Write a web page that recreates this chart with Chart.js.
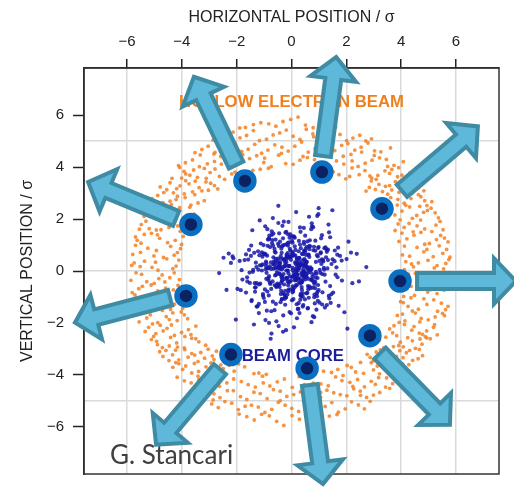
<!DOCTYPE html>
<html><head><meta charset="utf-8">
<script src="https://cdn.jsdelivr.net/npm/chart.js@4.4.1/dist/chart.umd.min.js"></script>
<style>html,body{margin:0;padding:0;background:#fff;}canvas{display:block;}</style>
</head><body>
<canvas id="c" width="514" height="492"></canvas>
<script>
// ---- axes ----
const xTickValues = [-6, -4, -2, 0, 2, 4, 6];
const yTickValues = [-6, -4, -2, 0, 2, 4, 6];
const yGridValues = [-5, 0, 5];
const xRange = [-7.57, 7.57];
const yRange = [-7.82, 7.82];

// ---- hollow electron beam (x,y pairs, sigma units) ----
const ringXY = [
4.12,0.05, 4.63,0.31, 5.21,0.12, 5.74,0.44, 4.38,0.27, 5.55,0.08,
-4.21,0.19, -4.87,0.03, -5.36,0.38, -5.83,0.22, -4.55,0.47, -5.09,0.14,
4.27,-0.12, 4.91,-0.35, 5.42,-0.06, 5.88,-0.28, 4.69,-0.44, 5.13,-0.21,
-4.09,-0.33, -4.72,-0.15, -5.28,-0.41, -5.67,-0.07, -4.44,-0.26, -5.01,-0.48,
4.05,0.62, 4.58,0.91, 5.17,0.55, 5.66,0.83, 4.83,0.74, 5.39,0.97,
-4.16,0.71, -4.67,0.52, -5.24,0.88, -5.79,0.64, -4.41,0.95, -5.02,0.58,
4.21,-0.68, 4.76,-0.53, 5.31,-0.87, 5.81,-0.61, 4.49,-0.94, 5.07,-0.72,
-4.02,-0.86, -4.59,-0.66, -5.12,-0.54, -5.71,-0.92, -4.88,-0.77, -5.44,-0.59,
3.92,1.14, 4.47,1.38, 5.03,1.06, 5.58,1.27, 4.72,1.49, 5.29,1.21,
-3.95,1.33, -4.52,1.09, -5.11,1.45, -5.63,1.18, -4.81,1.26, -5.37,1.41,
4.08,-1.22, 4.63,-1.47, 5.19,-1.11, 5.71,-1.36, 4.36,-1.03, 4.94,-1.29,
-4.13,-1.07, -4.69,-1.34, -5.26,-1.19, -5.74,-1.42, -4.41,-1.48, -5.00,-1.15,
3.78,1.56, 4.29,1.83, 4.86,1.62, 5.42,1.91, 4.58,1.74, 5.12,1.52, 3.96,1.97,
-3.81,1.66, -4.37,1.94, -4.93,1.58, -5.48,1.79, -4.64,1.87, -5.19,1.63, -4.06,1.53,
3.86,-1.71, 4.41,-1.54, 4.99,-1.88, 5.51,-1.63, 4.68,-1.96, 5.24,-1.77, 4.14,-1.92,
-3.79,-1.84, -4.33,-1.61, -4.88,-1.99, -5.44,-1.57, -4.57,-1.76, -5.15,-1.69, -4.02,-1.58,
3.52,2.08, 4.03,2.31, 4.57,2.14, 5.09,2.42, 5.36,2.05, 4.31,2.47, 4.82,2.26,
-3.55,2.19, -4.08,2.44, -4.61,2.03, -5.14,2.29, -5.38,2.11, -4.36,2.36, -4.85,2.48,
3.58,-2.23, 4.12,-2.06, 4.66,-2.39, 5.18,-2.17, 5.32,-2.46, 4.39,-2.28, 3.84,-2.49,
-3.49,-2.12, -4.01,-2.37, -4.54,-2.21, -5.07,-2.04, -5.34,-2.33, -4.27,-2.48, -4.79,-2.09,
3.14,2.58, 3.62,2.83, 4.11,2.61, 4.63,2.94, 5.12,2.67, 3.88,2.76, 4.39,2.99, 4.94,2.52,
-3.18,2.71, -3.67,2.54, -4.16,2.88, -4.69,2.63, -5.09,2.79, -3.91,2.97, -4.43,2.69, -4.97,2.56,
3.21,-2.66, 3.72,-2.91, 4.24,-2.57, 4.76,-2.82, 5.06,-2.61, 3.97,-2.74, 4.52,-2.98, 4.88,-2.53,
-3.13,-2.86, -3.64,-2.59, -4.19,-2.77, -4.71,-2.95, -5.11,-2.64, -3.89,-2.52, -4.46,-2.89, -4.92,-2.71,
2.72,3.08, 3.19,3.34, 3.66,3.12, 4.14,3.41, 4.61,3.19, 2.91,3.47, 3.43,3.26, 3.92,3.03, 4.38,3.37, 4.83,3.09,
-2.69,3.16, -3.12,3.43, -3.61,3.05, -4.07,3.28, -4.55,3.13, -2.95,3.38, -3.37,3.21, -3.86,3.48, -4.31,3.01, -4.79,3.24,
2.76,-3.21, 3.24,-3.04, 3.71,-3.39, 4.19,-3.15, 4.66,-3.02, 2.98,-3.46, 3.47,-3.31, 3.95,-3.07, 4.42,-3.44, 4.78,-3.26,
-2.74,-3.09, -3.17,-3.36, -3.64,-3.18, -4.11,-3.42, -4.58,-3.06, -2.89,-3.27, -3.41,-3.49, -3.89,-3.03, -4.34,-3.23, -4.81,-3.11,
1.98,3.55, 2.47,3.71, 2.93,3.58, 3.41,3.86, 3.87,3.63, 4.31,3.77, 1.52,3.82, 0.93,3.94, 2.21,3.97, 3.15,3.68, 3.66,3.91, 4.12,3.52,
-1.96,3.62, -2.44,3.53, -2.97,3.79, -3.43,3.61, -3.92,3.84, -4.36,3.57, -1.41,3.88, -0.84,3.96, -2.18,3.74, -3.18,3.95, -3.71,3.69, -4.08,3.99,
2.03,-3.64, 2.52,-3.52, 2.99,-3.81, 3.46,-3.59, 3.92,-3.73, 4.28,-3.61, 1.46,-3.91, 0.87,-3.97, 2.34,-3.89, 3.21,-3.96, 3.71,-3.55, 4.19,-3.86,
-1.93,-3.58, -2.49,-3.76, -2.94,-3.54, -3.39,-3.87, -3.86,-3.66, -4.33,-3.71, -1.37,-3.95, -0.92,-3.98, -2.27,-3.63, -3.12,-3.69, -3.64,-3.93, -4.11,-3.57,
-4.12,4.06, -3.61,4.28, -3.07,4.13, -2.58,4.41, -2.04,4.09, -1.53,4.33, -1.01,4.18, -0.47,4.46, 0.06,4.11, 0.58,4.37, 1.12,4.04, 1.64,4.24, 2.17,4.49,
2.69,4.15, 3.21,4.36, 3.74,4.07, 4.08,4.21, -3.33,4.47, -0.74,4.02, 1.89,4.42, 3.46,4.30, -2.81,4.22, 0.31,4.27, 2.43,4.03, -1.78,4.48,
-4.17,-4.09, -3.66,-4.31, -3.14,-4.02, -2.63,-4.44, -2.11,-4.16, -1.58,-4.38, -1.06,-4.05, -0.52,-4.27, 0.03,-4.48, 0.54,-4.13, 1.07,-4.35, 1.61,-4.08, 2.13,-4.29,
2.66,-4.46, 3.18,-4.11, 3.69,-4.34, 4.11,-4.04, -3.38,-4.19, -0.79,-4.43, 1.84,-4.22, 3.43,-4.47, -2.88,-4.33, 0.28,-4.07, 2.41,-4.18, -1.83,-4.26,
-3.52,4.56, -3.04,4.81, -2.55,4.63, -2.07,4.92, -1.58,4.69, -1.09,4.54, -0.61,4.86, -0.12,4.62, 0.37,4.97, 0.86,4.71,
1.34,4.52, 1.83,4.84, 2.31,4.66, 2.79,4.93, 3.26,4.59, 3.61,4.74, -2.83,4.51, -0.35,4.77, 1.12,4.95, 2.56,4.58,
-3.57,-4.64, -3.09,-4.53, -2.61,-4.88, -2.12,-4.61, -1.63,-4.95, -1.14,-4.72, -0.66,-4.57, -0.17,-4.83, 0.32,-4.66, 0.81,-4.91,
1.29,-4.59, 1.78,-4.76, 2.27,-4.54, 2.74,-4.87, 3.22,-4.68, 3.58,-4.52, -2.86,-4.97, -0.41,-4.99, 1.06,-4.68, 2.52,-4.79,
-2.86,5.04, -2.37,5.27, -1.88,5.13, -1.39,5.41, -0.91,5.08, -0.43,5.32, 0.06,5.19, 0.54,5.46, 1.03,5.11, 1.52,5.36, 2.01,5.02, 2.49,5.23, 2.92,5.09, -1.64,5.22, 0.78,5.28,
-2.91,-5.12, -2.43,-5.03, -1.94,-5.34, -1.46,-5.17, -0.97,-5.45, -0.48,-5.06, 0.01,-5.29, 0.49,-5.14, 0.98,-5.38, 1.47,-5.07, 1.96,-5.31, 2.44,-5.16, 2.87,-5.02, -1.21,-5.24, 0.73,-5.48,
-1.68,5.53, -1.12,5.71, -0.57,5.58, -0.03,5.84, 0.51,5.62, 1.06,5.76, 1.61,5.55, 0.24,5.93, -0.83,5.67,
-1.63,-5.61, -1.09,-5.52, -0.54,-5.79, 0.02,-5.57, 0.56,-5.86, 1.11,-5.64, 1.66,-5.53, -0.28,-5.95, 0.83,-5.69,
4.45,0.16, 4.98,0.41, 5.63,0.29, 4.17,0.36, 5.31,0.21, -4.33,0.09, -4.96,0.34, -5.52,0.17, -4.11,0.42, -5.74,0.31,
4.52,-0.09, 5.06,-0.39, 5.69,-0.18, 4.15,-0.24, 5.37,-0.46, -4.28,-0.07, -4.84,-0.29, -5.47,-0.13, -4.62,-0.42, -5.86,-0.36,
4.31,0.57, 4.94,0.83, 5.52,0.68, 4.12,0.96, 5.78,0.53, -4.28,0.61, -4.93,0.79, -5.51,0.72, -4.05,0.86, -5.69,0.99,
4.36,-0.59, 4.97,-0.81, 5.56,-0.74, 4.09,-0.98, 5.73,-0.51, -4.31,-0.73, -4.96,-0.96, -5.57,-0.68, -4.14,-0.55, -5.81,-0.83,
4.21,1.24, 4.86,1.03, 5.44,1.37, 4.03,1.46, 5.71,1.12, -4.24,1.18, -4.89,1.39, -5.49,1.07, -4.01,1.02, -5.69,1.31,
4.25,-1.36, 4.83,-1.07, 5.47,-1.24, 3.98,-1.18, 5.62,-1.49, -4.27,-1.28, -4.86,-1.04, -5.51,-1.33, -3.97,-1.44, -5.66,-1.09,
4.11,1.68, 4.71,1.96, 5.27,1.77, 3.89,1.81, 5.53,1.59, 4.44,1.51, -4.15,1.74, -4.76,1.59, -5.31,1.92, -3.92,1.86, -5.55,1.61, -4.47,1.68,
4.05,-1.66, 4.73,-1.83, 5.33,-1.55, 3.93,-1.98, 5.58,-1.72, 4.52,-1.62, -4.17,-1.91, -4.71,-1.52, -5.28,-1.81, -3.91,-1.69, -5.56,-1.96, -4.46,-1.87,
3.77,2.16, 4.41,2.03, 4.96,2.33, 5.24,2.24, 3.66,2.41, 4.68,2.49, -3.79,2.06, -4.44,2.13, -4.98,2.38, -5.27,2.21, -3.71,2.46, -4.72,2.27,
3.74,-2.11, 4.47,-2.14, 4.93,-2.31, 5.22,-2.07, 3.69,-2.38, 4.78,-2.44, -3.76,-2.26, -4.38,-2.08, -4.95,-2.41, -5.21,-2.17, -3.67,-2.45, -4.68,-2.31,
3.39,2.67, 3.86,2.54, 4.36,2.79, 4.86,2.71, 3.51,2.96, 4.17,2.53, 4.72,2.86, -3.41,2.62, -3.88,2.83, -4.38,2.56, -4.88,2.91, -3.53,2.94, -4.21,2.75, -5.02,2.68,
3.44,-2.55, 3.91,-2.87, 4.41,-2.69, 4.93,-2.58, 3.36,-2.96, 4.08,-2.92, 4.69,-2.62, -3.38,-2.73, -3.91,-2.96, -4.41,-2.56, -4.89,-2.84, -3.49,-2.61, -4.16,-2.93, -5.03,-2.52,
2.84,3.22, 3.32,3.06, 3.79,3.44, 4.26,3.16, 4.71,3.31, 3.06,3.14, 3.58,3.29, 4.03,3.36, -2.81,3.29, -3.27,3.09, -3.74,3.36, -4.19,3.17, -4.66,3.02, -3.03,3.11, -3.51,3.46, -4.43,3.40,
2.87,-3.33, 3.36,-3.18, 3.83,-3.29, 4.31,-3.06, 4.62,-3.38, 3.09,-3.12, 3.59,-3.47, 4.07,-3.34, -2.83,-3.41, -3.31,-3.14, -3.77,-3.32, -4.23,-3.05, -4.69,-3.29, -3.04,-3.01, -3.53,-3.24, -4.47,-3.45,
2.12,3.64, 2.68,3.87, 3.09,3.53, 3.58,3.76, 4.03,3.69, 1.73,3.71, 1.21,3.93, 2.86,3.66, 3.91,3.98, -2.06,3.81, -2.63,3.64, -3.11,3.57, -3.57,3.89, -4.01,3.58, -1.68,3.77, -1.14,3.92, -2.79,3.93, -3.86,3.74,
2.18,-3.71, 2.63,-3.94, 3.13,-3.66, 3.61,-3.82, 4.06,-3.59, 1.69,-3.79, 1.17,-3.86, 2.91,-3.53, 3.89,-3.99, -2.09,-3.86, -2.58,-3.62, -3.06,-3.91, -3.54,-3.56, -3.97,-3.79, -1.71,-3.69, -1.19,-3.93, -2.81,-3.74, -4.22,-3.53,
-3.87,4.17, -3.36,4.02, -2.31,4.28, -1.27,4.44, -0.21,4.14, 0.84,4.29, 1.37,4.46, 1.91,4.12, 2.94,4.27, 3.51,4.03, -2.56,4.12, -0.98,4.35, 0.42,4.41, 2.21,4.24, 3.02,4.45,
-3.91,-4.23, -3.41,-4.05, -2.36,-4.31, -1.32,-4.47, -0.26,-4.16, 0.79,-4.32, 1.34,-4.42, 1.88,-4.03, 2.91,-4.25, 3.47,-4.12, -2.51,-4.09, -1.03,-4.31, 0.47,-4.38, 2.24,-4.45, 3.06,-4.37,
-3.27,4.68, -2.79,4.57, -2.31,4.79, -1.82,4.61, -1.34,4.88, -0.86,4.66, -0.37,4.53, 0.12,4.81, 0.61,4.58, 1.09,4.83, 1.58,4.64, 2.06,4.91, 2.54,4.77, 3.03,4.63,
-3.31,-4.56, -2.83,-4.73, -2.34,-4.61, -1.86,-4.84, -1.37,-4.67, -0.89,-4.92, -0.41,-4.63, 0.08,-4.76, 0.57,-4.55, 1.06,-4.87, 1.54,-4.69, 2.02,-4.81, 2.51,-4.63, 2.99,-4.78,
-2.62,5.16, -2.13,5.35, -1.17,5.02, -0.67,5.24, -0.19,5.43, 0.31,5.07, 0.81,5.17, 1.28,5.44, 1.77,5.26, 2.24,5.12, 2.71,5.01,
-2.67,-5.26, -2.18,-5.09, -1.69,-5.21, -0.72,-5.33, -0.23,-5.17, 0.26,-5.41, 0.74,-5.09, 1.23,-5.22, 1.71,-5.44, 2.19,-5.04, 2.66,-5.31,
-1.39,5.64, -0.31,5.76, 0.79,5.52, 1.33,5.67, -1.89,5.51, -1.36,-5.74, -0.81,-5.58, 0.29,-5.71, 1.38,-5.59, -1.91,-5.51
];

// ---- beam core (sigma units) ----
const coreX = [
0.12,-0.71,0.47,1.13,-0.08,-0.56,0.29,-1.58,-0.41,0.63,0.03,-1.27,-0.22,0.88,0.38,-2.21,-0.15,0.94,0.44,1.41,-0.27,-0.83,-0.34,0.52,1.72,-1.08,0.21,-0.97,0.76,1.35,-0.64,-1.46,
-0.05,0.58,-1.19,0.33,-0.46,0.81,1.64,-0.19,0.07,-0.92,0.41,-1.37,0.26,0.69,-0.31,2.08,-0.60,0.14,-0.77,1.22,-0.43,0.99,0.18,-1.85,-0.11,0.54,-0.36,1.06,0.49,-0.87,-1.52,0.02,
0.37,-0.24,1.28,-0.68,0.09,-1.71,0.45,0.73,-0.39,-1.04,0.16,0.91,-0.13,-0.58,2.46,0.31,-0.82,1.49,-0.47,0.04,0.67,-1.33,-0.28,0.85,0.22,-0.95,1.11,-0.17,-2.03,0.56,0.43,-0.74,
-0.42,0.19,-0.86,1.57,0.35,-0.11,0.62,-1.24,0.48,-0.33,-0.79,1.03,0.06,0.97,-1.62,-0.20,0.27,-0.53,1.38,-0.04,0.71,-0.45,-1.15,0.13,0.89,-0.67,1.93,-0.26,0.39,-0.98,0.55,-0.09,
0.24,-0.61,0.02,1.31,-0.38,0.78,-1.43,0.46,-0.14,0.57,-0.92,-0.30,1.77,0.11,-0.70,0.34,-1.09,0.84,-0.48,0.18,-2.37,0.65,-0.23,1.16,-0.06,-0.81,0.42,0.93,-1.28,0.28,-0.55,-0.17,
-0.29,0.83,0.15,-1.36,0.51,-0.07,0.66,-0.44,1.24,-0.90,0.32,-0.18,-1.66,0.74,0.08,-0.59,1.02,-0.35,0.46,2.22,-0.73,0.21,-1.12,0.61,-0.49,0.95,-0.12,1.45,-0.84,0.36,-0.01,-0.53,
0.44,-0.16,-0.88,0.27,1.09,-0.52,0.59,-1.21,-0.37,0.01,0.79,1.83,-0.25,0.68,-0.43,-1.47,0.14,0.98,-0.66,0.33,-0.08,1.29,-2.64,0.50,-0.31,0.87,-0.75,0.20,-1.03,0.41,0.64,-0.12,
-0.19,0.54,-0.72,0.06,1.18,-0.40,0.29,-1.55,0.77,-0.02,-0.94,0.46,0.17,-0.63,1.36,-0.28,0.91,-1.17,0.38,-0.47,2.01,-0.09,0.58,-0.81,0.23,1.07,-0.35,-1.89,0.70,0.12,-0.56,0.33,
0.31,-0.47,0.96,-0.06,-1.30,0.18,0.72,-0.23,1.50,-0.84,0.41,-0.14,0.60,-1.02,0.05,-0.68,1.21,0.27,-0.39,-2.15,0.83,-0.50,0.15,1.41,-0.91,0.47,-0.20,0.53,-1.61,0.09,-0.76,0.36,
-0.10,0.69,-0.31,1.12,0.25,-0.57,-1.40,0.42,0.87,-0.18,0.04,-0.96,1.68,-0.44,0.32,-0.65,0.80,-1.19,0.13,0.50,-0.27,1.33,-0.82,2.73,-0.03,0.61,-0.49,0.99,-1.05,0.19,-0.36,0.45,
0.53,-0.37,0.08,-1.14,0.71,0.26,-0.62,1.46,-0.05,-0.88,0.39,1.02,-0.21,0.65,-1.79,0.17,-0.46,0.92,-0.13,1.24,-0.74,0.31,2.17,-0.29,0.58,-1.31,0.04,-0.95,0.47,-0.18,0.82,-0.51,
-0.33,0.14,0.86,-0.59,1.37,-0.02,-1.06,0.43,0.25,-0.78,1.61,-0.12,0.67,-0.41,0.09,-2.29,0.36,-0.93,0.75,-0.24,1.15,0.51,-1.45,0.03,-0.66,0.97,-0.17,0.29,-1.22,0.60,-0.45,1.84,
0.19,-0.83,0.41,1.08,-0.26,0.62,-1.53,-0.07,0.34,0.89,-0.48,-1.16,0.11,0.73,-0.35,1.29,-0.69,0.22,-0.04,-1.97,0.56,-0.31,0.96,0.07,-0.87,1.52,-0.15,0.45,-1.34,0.28,-0.57,2.38,
-0.61,0.35,-0.14,0.81,-1.27,0.05,0.49,-0.38,1.19,-0.72,0.16,1.70,-0.97,0.27,-0.09,0.64,-1.48,0.41,-0.23,1.05,0.12,-0.55,-2.12,0.78,-0.31,1.33,-0.84,0.02,0.54,-1.04,0.93,-0.19,
0.28,-0.11,1.26,-0.66,0.44,-0.93,0.07,1.58,-0.39,0.71,-1.19,-0.25,0.52,0.17,-1.66,0.84,-0.48,0.36,-0.02,1.12,-0.79,0.60,-0.34,2.04,0.13,-1.08,0.47,-0.58,0.95,-0.16,-1.41,0.23,
-0.07,0.66,-0.44,0.19,1.43,-0.89,0.31,-1.33,0.58,-0.16,0.87,-0.62,1.11,0.04,-0.27,-1.82,0.42,-0.51,0.99,0.21,-1.01,1.67,-0.35,0.09,-0.74,0.38,-2.48,0.73,-0.20,1.20,0.15,-0.42
];
const coreY = [
-0.36,1.07,0.21,-0.82,0.55,-0.14,-1.62,0.44,0.09,-1.03,0.73,-0.47,1.48,-0.26,0.66,0.31,-0.91,2.12,-0.05,-0.58,0.18,1.25,-0.39,0.87,-1.34,0.02,0.49,-0.71,-0.22,1.79,0.37,-1.16,
0.53,-0.09,-1.27,0.28,0.96,-0.43,0.14,1.51,-0.67,-0.30,0.41,-2.06,0.76,0.05,-0.85,1.13,-0.17,0.60,-0.50,-1.41,0.23,0.92,-0.02,-0.74,1.89,0.35,-0.25,0.68,-1.09,0.11,-0.46,1.32,
-0.62,0.19,0.83,-1.18,-0.07,0.42,1.66,-0.33,0.57,-0.95,0.26,-1.49,0.01,0.71,-0.40,1.02,-0.20,2.34,-0.56,0.12,0.94,-0.80,0.46,-1.25,-0.13,0.64,1.38,-0.29,-1.87,0.35,0.07,-0.69,
0.16,-0.55,1.21,0.38,-0.98,-0.10,0.62,-1.36,0.29,1.74,-0.45,0.04,-0.77,0.89,-0.24,-2.28,0.51,0.13,-1.06,0.79,-0.34,1.45,0.22,-0.61,-0.03,0.97,-1.59,0.44,-0.18,0.67,-0.86,1.10,
-0.28,0.74,-1.13,0.10,0.47,-0.64,1.57,-0.05,-0.41,0.93,0.30,-1.71,0.58,-0.16,1.19,-0.88,0.22,-0.50,2.51,0.03,-0.73,0.84,-1.30,0.37,-0.21,1.36,0.65,-0.97,0.15,-0.44,-1.94,0.52,
0.43,-1.01,0.08,0.70,-0.32,1.28,-0.60,-0.12,0.91,-1.53,0.24,0.55,-0.83,1.84,-0.19,0.36,-1.22,0.06,0.78,-0.47,-2.41,0.17,1.06,-0.70,0.48,-0.27,1.41,-0.90,0.11,-0.38,0.63,-0.04,
-0.15,0.59,-0.79,1.16,0.27,-0.49,-1.44,0.05,0.86,-0.23,1.69,0.40,-1.07,0.14,-0.62,0.98,-0.31,2.19,0.53,-0.93,0.20,-1.31,-0.08,0.75,1.26,-0.42,0.33,-1.82,0.66,-0.17,0.01,-0.55,
0.34,-0.20,1.39,-0.71,0.12,-1.20,0.50,0.81,-0.36,-1.63,0.07,1.04,-0.54,0.25,-0.96,1.90,-0.11,0.61,-0.43,-2.12,0.46,0.18,-0.84,1.23,-0.29,0.72,-1.08,0.39,-0.06,0.95,-0.58,1.51,
-0.48,0.13,-1.15,0.85,0.32,-0.02,1.61,-0.76,0.45,-0.27,-1.37,0.69,0.06,1.00,-0.59,2.04,-0.14,0.24,-0.89,0.56,-1.78,0.38,-0.33,1.30,-0.07,0.77,-1.02,0.19,-0.40,0.60,-2.61,0.28,
0.20,-0.66,0.99,-0.12,-1.46,0.47,0.04,-0.35,1.17,0.63,-0.82,1.72,-0.24,0.31,-1.11,0.09,0.80,-0.52,-0.17,1.36,-0.90,0.42,-2.00,0.15,0.54,-0.30,1.05,-0.74,0.26,-1.28,0.70,-0.01,
0.62,-0.18,1.33,-0.49,0.07,-1.24,0.85,0.27,-0.71,1.61,-0.05,0.39,-1.02,0.54,-0.33,2.27,0.16,-0.87,0.98,-0.41,-1.55,0.22,0.71,-0.12,1.14,-0.63,0.03,-1.89,0.46,-0.26,0.93,-0.57,
-0.23,0.81,-0.66,0.12,1.49,-0.38,0.55,-1.31,0.04,0.92,-0.14,-0.79,1.18,0.31,-2.17,0.67,-0.45,0.19,1.72,-0.96,0.42,-0.08,-1.12,0.58,0.25,-0.54,1.03,-0.29,0.76,-1.43,0.10,-0.37,
0.47,-0.94,0.20,1.26,-0.31,0.63,-0.06,-1.58,0.88,0.35,-0.52,1.95,-0.17,0.09,-1.09,0.74,-0.40,0.28,1.41,-0.69,0.13,-2.34,0.56,-0.22,0.97,-0.83,0.02,1.12,-0.47,0.38,-1.27,0.66,
-0.55,0.24,1.07,-0.13,-1.37,0.69,0.41,-0.76,0.05,1.53,-0.28,0.90,-1.19,0.17,-0.44,2.09,0.58,-0.99,0.32,-0.07,1.28,-0.62,0.49,-1.74,0.14,0.82,-0.35,1.16,-0.21,-0.89,0.61,0.02,
0.11,-0.72,0.53,1.44,-0.19,0.36,-1.08,0.79,-0.47,0.06,-1.62,1.01,0.27,-0.36,0.64,-0.91,1.85,-0.10,0.43,-1.29,0.18,-0.58,0.95,-2.22,0.33,0.72,-0.25,1.21,-0.80,0.47,-0.03,-1.46,
-0.40,0.97,-0.09,0.34,-1.23,0.59,1.68,-0.64,0.15,-0.27,0.78,-1.51,0.45,1.09,-0.52,0.03,-0.86,0.26,2.42,-0.16,-1.04,0.63,-0.37,1.32,0.08,-0.73,0.51,-1.97,0.21,0.88,-0.30,1.13
];

// ---- probe markers (circles) ----
const markerX = [-1.70, 1.11, 3.30, 3.96, 2.86, 0.57, -2.21, -3.85, -3.67];
const markerY = [3.47, 3.81, 2.40, -0.39, -2.49, -3.75, -3.22, -0.96, 1.79];

// ---- arrows (tail -> tip) ----
const arrowFromX = [-2.02, 1.15, 4.03, 4.58, 3.23, 0.67, -2.61, -4.43, -4.21];
const arrowFromY = [4.08, 4.43, 3.09, -0.39, -3.17, -4.39, -3.78, -1.03, 2.02];
const arrowToX = [-3.56, 1.63, 6.80, 8.19, 5.78, 1.15, -4.94, -7.90, -7.42];
const arrowToY = [7.48, 8.24, 5.57, -0.39, -5.92, -8.21, -6.69, -1.99, 3.43];

// ---- text notes ----
const noteText = ['HOLLOW ELECTRON BEAM', 'BEAM CORE'];
const noteX = [0.0, 0.05];
const noteY = [6.5, -3.3];
const creditText = 'G. Stancari';
const creditX = -6.62;
const creditY = -7.45;

const ringPts = [];
for (let i = 0; i + 1 < ringXY.length; i += 2) ringPts.push({x: ringXY[i], y: ringXY[i + 1]});
const nCore = Math.min(coreX.length, coreY.length);
const corePts = [];
for (let i = 0; i < nCore; i++) corePts.push({x: coreX[i], y: coreY[i]});
const markerPts = markerX.map((x, i) => ({x, y: markerY[i]}));

function drawArrow(ctx, x1, y1, x2, y2) {
  const dx = x2 - x1, dy = y2 - y1, len = Math.hypot(dx, dy);
  const ux = dx / len, uy = dy / len, nx = -uy, ny = ux;
  const w = 8, h = 23, L = 22;
  const bx = x2 - ux * L, by = y2 - uy * L;
  ctx.beginPath();
  ctx.moveTo(x1 + nx * w, y1 + ny * w);
  ctx.lineTo(bx + nx * w, by + ny * w);
  ctx.lineTo(bx + nx * h, by + ny * h);
  ctx.lineTo(x2, y2);
  ctx.lineTo(bx - nx * h, by - ny * h);
  ctx.lineTo(bx - nx * w, by - ny * w);
  ctx.lineTo(x1 - nx * w, y1 - ny * w);
  ctx.closePath();
  ctx.fillStyle = '#5db8d9';
  ctx.fill();
  ctx.lineJoin = 'miter';
  ctx.lineWidth = 4;
  ctx.strokeStyle = '#3f8ba4';
  ctx.stroke();
}

function stretchedText(ctx, text, x, y, sx) {
  ctx.save();
  ctx.translate(x, y);
  ctx.scale(sx, 1);
  ctx.fillText(text, 0, 0);
  ctx.restore();
}

const framePlugin = {
  id: 'frame',
  beforeDatasetsDraw(chart) {
    const a = chart.chartArea, ctx = chart.ctx;
    ctx.save();
    ctx.strokeStyle = '#333';
    ctx.lineWidth = 1.5;
    ctx.strokeRect(a.left, a.top, a.right - a.left, a.bottom - a.top);
    ctx.restore();
  }
};

const overlayPlugin = {
  id: 'overlay',
  afterDatasetDraw(chart, args) {
    if (args.index !== 1) return;
    const ctx = chart.ctx, xs = chart.scales.x, ys = chart.scales.y;
    ctx.save();
    ctx.textAlign = 'center';
    ctx.textBaseline = 'middle';
    ctx.font = 'bold 16px "Liberation Sans", Arial, sans-serif';
    const noteColors = ['#f0801e', '#1c1c9a'];
    noteText.forEach((t, i) => {
      ctx.fillStyle = noteColors[i];
      stretchedText(ctx, t, xs.getPixelForValue(noteX[i]), ys.getPixelForValue(noteY[i]), 1.045);
    });
    ctx.textAlign = 'left';
    ctx.textBaseline = 'alphabetic';
    ctx.font = '26px Lato, "Open Sans", sans-serif';
    ctx.fillStyle = '#404040';
    ctx.fillText(creditText, xs.getPixelForValue(creditX), ys.getPixelForValue(creditY));
    for (let i = 0; i < arrowFromX.length; i++) {
      drawArrow(ctx,
        xs.getPixelForValue(arrowFromX[i]), ys.getPixelForValue(arrowFromY[i]),
        xs.getPixelForValue(arrowToX[i]), ys.getPixelForValue(arrowToY[i]));
    }
    ctx.restore();
  }
};

const fmt = v => (v < 0 ? '\u2212' : '') + Math.abs(v);
const axisFont = {family: '"Liberation Sans", Arial, Helvetica, sans-serif', size: 15};
const titleFont = {family: '"Liberation Sans", Arial, Helvetica, sans-serif', size: 16};

new Chart(document.getElementById('c'), {
  type: 'scatter',
  data: {
    datasets: [
      {label: 'probes', data: markerPts, pointRadius: 9, pointBorderWidth: 5.5,
       backgroundColor: '#0b2263', borderColor: '#0a6fc1', pointHoverRadius: 9},
      {label: 'core', data: corePts, pointRadius: 2.1, borderWidth: 0,
       backgroundColor: 'rgba(24,24,168,0.85)', pointHoverRadius: 2.1},
      {label: 'ring', data: ringPts, pointRadius: 1.9, borderWidth: 0,
       backgroundColor: 'rgba(242,128,34,0.85)', pointHoverRadius: 1.9}
    ]
  },
  options: {
    responsive: false,
    animation: false,
    devicePixelRatio: 1,
    events: [],
    layout: {padding: {left: 0, top: 0, right: 15, bottom: 14}},
    plugins: {legend: {display: false}, tooltip: {enabled: false}},
    scales: {
      x: {
        type: 'linear', position: 'top', min: xRange[0], max: xRange[1],
        afterBuildTicks: s => { s.ticks = xTickValues.map(v => ({value: v})); },
        afterFit: s => { s.height = 68; },
        ticks: {callback: fmt, font: axisFont, color: '#222', padding: 8, maxRotation: 0},
        grid: {color: '#dadada', lineWidth: 1.5, tickColor: '#222', tickLength: 9, tickWidth: 1.5},
        border: {display: true, color: '#222', width: 1.5},
        title: {display: true, text: 'HORIZONTAL POSITION / \u03c3', font: titleFont, color: '#222', padding: {top: 8, bottom: 0}}
      },
      y: {
        type: 'linear', position: 'left', min: yRange[0], max: yRange[1],
        afterBuildTicks: s => { s.ticks = yTickValues.map(v => ({value: v})); },
        afterFit: s => { s.width = 84; },
        ticks: {callback: fmt, font: axisFont, color: '#222', padding: 9},
        grid: {drawOnChartArea: false, tickColor: '#222', tickLength: 11, tickWidth: 1.5},
        border: {display: true, color: '#222', width: 1.5},
        title: {display: true, text: 'VERTICAL POSITION / \u03c3', font: titleFont, color: '#222', padding: {top: 18, bottom: 0}}
      },
      yg: {
        type: 'linear', position: 'right', min: yRange[0], max: yRange[1],
        afterBuildTicks: s => { s.ticks = yGridValues.map(v => ({value: v})); },
        afterFit: s => { s.width = 0; },
        ticks: {display: false},
        grid: {color: '#dadada', lineWidth: 1.5, drawTicks: false},
        border: {display: false}
      }
    }
  },
  plugins: [framePlugin, overlayPlugin]
});
</script>
</body></html>
